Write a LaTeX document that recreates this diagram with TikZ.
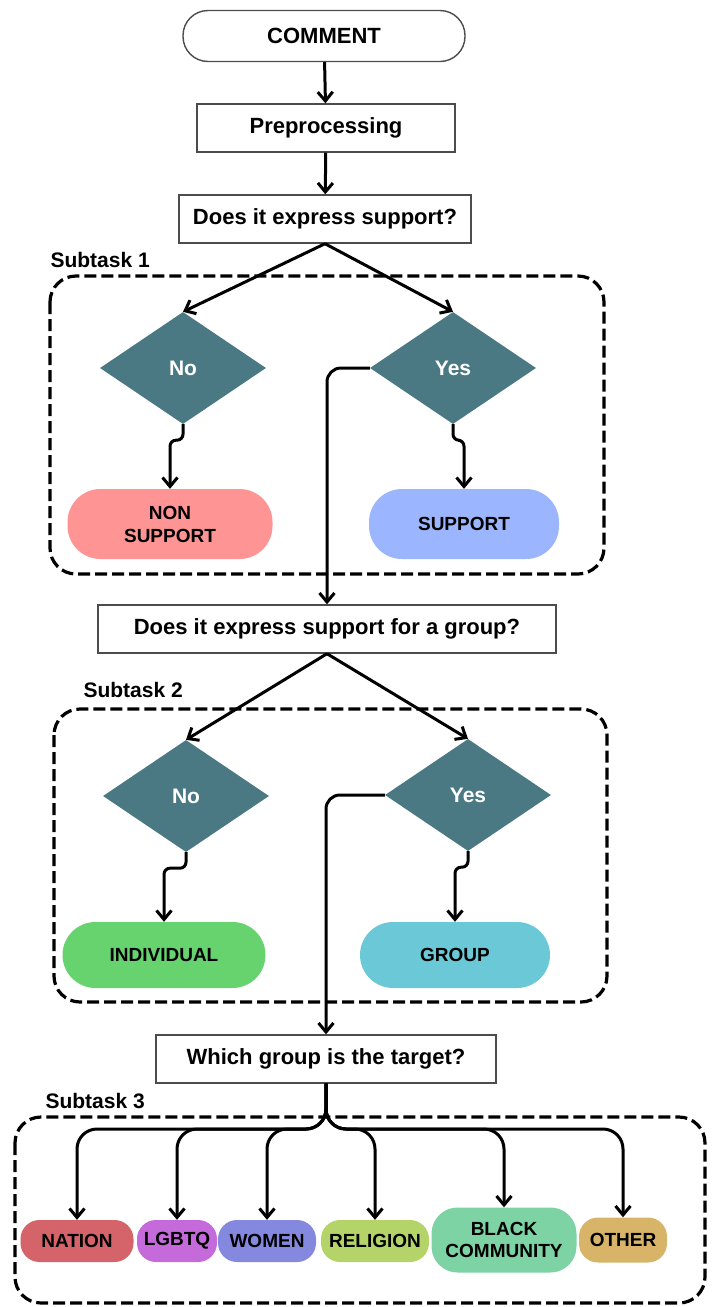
\documentclass[tikz,border=0pt]{standalone}
\usepackage{fontspec}
\setmainfont{Liberation Sans}
\usetikzlibrary{shapes.geometric,arrows.meta,positioning}

\definecolor{decteal}{HTML}{4A7883}
\definecolor{nonsup}{HTML}{FF9494}
\definecolor{sup}{HTML}{9BB6FF}
\definecolor{indiv}{HTML}{66D36E}
\definecolor{grp}{HTML}{6BC8D6}
\definecolor{nation}{HTML}{D4636A}
\definecolor{lgbtq}{HTML}{C46ADB}
\definecolor{women}{HTML}{8488DE}
\definecolor{religion}{HTML}{B4D46A}
\definecolor{blackc}{HTML}{7ED3A4}
\definecolor{other}{HTML}{D7B468}

\tikzset{
  line/.style={line width=3pt, -{Straight Barb[length=9pt,width=15pt,line width=3pt]}},
  question/.style={draw=black!70, line width=1.4pt, minimum height=48pt, inner xsep=10pt,
    font=\bfseries\fontsize{22}{26}\selectfont},
  decision/.style={diamond, fill=decteal, minimum width=166pt, minimum height=112pt,
    inner sep=0pt, text=white, font=\bfseries\fontsize{21}{25}\selectfont},
  outcome/.style={rectangle, rounded corners=33pt, minimum height=70pt, align=center,
    font=\bfseries\fontsize{19}{23}\selectfont},
  target/.style={rectangle, rounded corners=19pt, minimum height=42pt, inner xsep=3pt, align=center,
    font=\bfseries\fontsize{19}{22}\selectfont},
  groupbox/.style={draw, line width=3.2pt, dash pattern=on 12pt off 5pt, rounded corners=26pt},
  tasklabel/.style={anchor=west, font=\bfseries\fontsize{21}{24}\selectfont}
}

\begin{document}
\begin{tikzpicture}[x=1pt,y=-1pt]
  \useasboundingbox (0,0) rectangle (713,1307);

  % subtask frames
  \draw[groupbox] (50,276) rectangle (604,574);
  \draw[groupbox] (54,709) rectangle (607,1002);
  \draw[groupbox] (15,1117) rectangle (705,1303);
  \node[tasklabel] (st1) at (47,260) {Subtask 1};
  \node[tasklabel] (st2) at (80,690) {Subtask 2};
  \node[tasklabel] (st3) at (42,1101) {Subtask 3};

  % main flow
  \node[draw=black!70, line width=1.4pt, rounded corners=25pt, minimum width=282pt, minimum height=51pt,
    font=\bfseries\fontsize{22}{26}\selectfont] (comment) at (324,36) {COMMENT};
  \node[question, minimum width=258pt] (prep) at (326,128) {Preprocessing};
  \node[question, minimum width=292pt] (q1) at (325,219) {Does it express support?};

  % subtask 1
  \node[decision] (no1) at (183,368) {No};
  \node[decision] (yes1) at (453,368) {Yes};
  \node[outcome, fill=nonsup, minimum width=205pt] (nonsupport) at (170,524) {NON\\SUPPORT};
  \node[outcome, fill=sup, minimum width=190pt] (support) at (464,524) {SUPPORT};

  \node[question, minimum width=458pt] (q2) at (327,629) {Does it express support for a group?};

  % subtask 2
  \node[decision] (no2) at (186,796) {No};
  \node[decision] (yes2) at (468,795) {Yes};
  \node[outcome, fill=indiv, minimum width=203pt, minimum height=66pt] (individual) at (164,955) {INDIVIDUAL};
  \node[outcome, fill=grp, minimum width=190pt, minimum height=66pt] (group) at (455,955) {GROUP};

  \node[question, minimum width=340pt] (q3) at (326,1059) {Which group is the target?};

  % subtask 3
  \node[target, fill=nation, minimum width=113pt] (nation) at (77,1241) {NATION};
  \node[target, fill=lgbtq, minimum width=80pt] (lgbtq) at (177,1241) {LGBTQ};
  \node[target, fill=women, minimum width=98pt] (women) at (267,1241) {WOMEN};
  \node[target, fill=religion, minimum width=108pt] (religion) at (375,1241) {RELIGION};
  \node[target, fill=blackc, minimum width=145pt, minimum height=65pt, rounded corners=26pt] (black) at (504,1240) {BLACK\\COMMUNITY};
  \node[target, fill=other, minimum width=88pt, minimum height=45pt] (other) at (623,1240) {OTHER};
  \coordinate (hub) at (326,1129);

  % connectors
  \draw[line] (comment) -- (prep);
  \draw[line] (prep) -- (q1);
  \draw[line] (q1.south) -- (no1.north);
  \draw[line] (q1.south) -- (yes1.north);
  \draw[line, rounded corners=6pt] (no1.south) -- ++(0,16) -| (nonsupport.north);
  \draw[line, rounded corners=6pt] (yes1.south) -- ++(0,16) -| (support.north);
  \draw[line, rounded corners=14pt] (yes1.west) -| (q2.north);
  \draw[line] (q2.south) -- (no2.north);
  \draw[line] (q2.south) -- (yes2.north);
  \draw[line, rounded corners=6pt] (no2.south) -- ++(0,16) -| (individual.north);
  \draw[line, rounded corners=6pt] (yes2.south) -- ++(0,16) -| (group.north);
  \draw[line, rounded corners=14pt] (yes2.west) -| (q3.north);
  \foreach \t in {nation,lgbtq,women,religion,black,other}
    \draw[line, rounded corners=20pt] (q3.south) |- (hub -| \t.north) -- (\t.north);
\end{tikzpicture}
\end{document}
